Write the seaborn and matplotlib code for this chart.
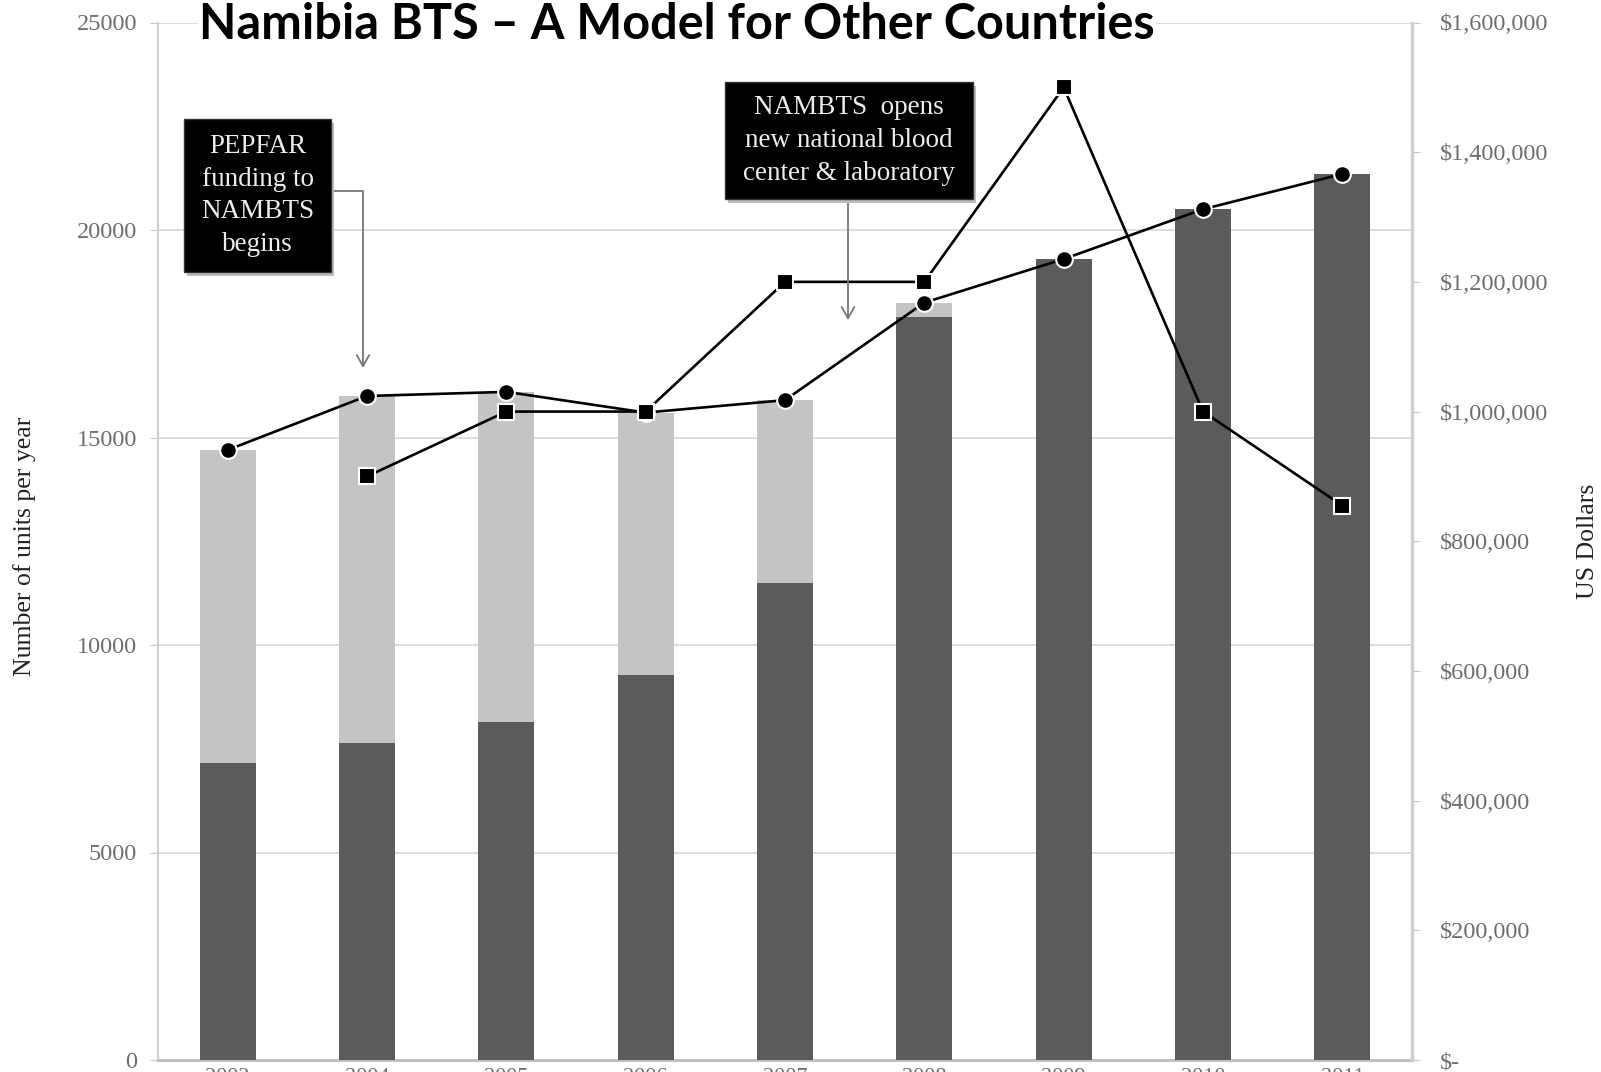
import numpy as np
import pandas as pd
import matplotlib
matplotlib.use("Agg")
import matplotlib.pyplot as plt
from matplotlib.patches import Rectangle
import seaborn as sns

years = ["2003", "2004", "2005", "2006", "2007", "2008", "2009", "2010", "2011"]
# units per year: dark part and total (light part stacked on top)
units_dark = [7150, 7650, 8150, 9280, 11500, 17900, 19300, 20500, 21350]
units_total = [14700, 16000, 16100, 15600, 15900, 18250, 19300, 20500, 21350]
# US dollars (no value for 2003)
dollars = [np.nan, 900000, 1000000, 1000000, 1200000, 1200000, 1500000, 1000000, 855000]

left_ticks = [0, 5000, 10000, 15000, 20000, 25000]
right_ticks = [0, 200000, 400000, 600000, 800000, 1000000, 1200000, 1400000, 1600000]
right_labels = ["$-", "$200,000", "$400,000", "$600,000", "$800,000",
                "$1,000,000", "$1,200,000", "$1,400,000", "$1,600,000"]

df = pd.DataFrame({"year": years, "dark": units_dark, "total": units_total, "usd": dollars})

sns.set_style("white")
plt.rcParams["font.family"] = ["Liberation Serif", "DejaVu Serif"]

W, H = 1601, 1072
fig = plt.figure(figsize=(W / 100, H / 100), dpi=100)
ax = fig.add_axes([158 / W, 1 - 1060 / H, (1412 - 158) / W, (1060 - 22.5) / H])

grey_txt = "#6e6e6e"
sns.barplot(data=df, x="year", y="total", order=years, color="#c4c4c4",
            saturation=1, width=0.4, linewidth=0, ax=ax, zorder=2)
sns.barplot(data=df, x="year", y="dark", order=years, color="#5b5b5b",
            saturation=1, width=0.4, linewidth=0, ax=ax, zorder=3)

ax.set_ylim(0, 25000)
ax.set_xlim(-0.5, 8.5)
ax.set_yticks(left_ticks)
ax.set_yticklabels([str(t) for t in left_ticks])
ax.yaxis.grid(True, color="#d9d9d9", lw=1.3, zorder=0)
ax.set_axisbelow(True)
ax.set_xlabel("")
ax.set_ylabel("")
ax.tick_params(axis="y", length=6, color="#c8c8c8", labelsize=17.5, labelcolor=grey_txt, pad=9)
ax.set_xticks(range(len(years)))
ax.set_xticklabels(years)
ax.set_xticks(np.arange(-0.5, 9, 1), minor=True)
ax.tick_params(axis="x", which="major", length=0, labelsize=16, labelcolor=grey_txt, pad=6)
ax.tick_params(axis="x", which="minor", length=12, color="#c8c8c8", width=1.2)
for s in ["top", "right"]:
    ax.spines[s].set_visible(False)
ax.spines["left"].set_color("#d0d0d0")
ax.spines["left"].set_linewidth(1.5)
ax.spines["bottom"].set_color("#c0c0c0")
ax.spines["bottom"].set_linewidth(2.2)

ax2 = ax.twinx()
sns.pointplot(data=df, x="year", y="total", order=years, color="black", errorbar=None,
              markers="o", markersize=12, markeredgecolor="white", markeredgewidth=1.5,
              linewidth=1.9, ax=ax2, zorder=5)
ax3 = ax.twinx()
sns.pointplot(data=df, x="year", y="usd", order=years, color="black", errorbar=None,
              markers="s", markersize=11.5, markeredgecolor="white", markeredgewidth=1.5,
              linewidth=1.9, ax=ax3, zorder=5)
ax2.set_ylim(0, 25000)
ax2.axis("off")
ax3.set_ylim(0, 1600000)
ax3.set_xlim(-0.5, 8.5)
ax3.set_yticks(right_ticks)
ax3.set_yticklabels(right_labels)
ax3.set_ylabel("")
ax3.set_xlabel("")
ax3.tick_params(axis="y", length=6, color="#c8c8c8", labelsize=17.5, labelcolor=grey_txt, pad=14)
for s in ["top", "left", "bottom"]:
    ax3.spines[s].set_visible(False)
ax3.spines["right"].set_color("#d0d0d0")
ax3.spines["right"].set_linewidth(2.5)
ax2.set_xlim(-0.5, 8.5)

fig.text(25 / W, 1 - 546 / H, "Number of units per year", rotation=90, ha="center", va="center",
         fontsize=18.5, color="#222222")
fig.text(1588 / W, 1 - 541 / H, "US Dollars", rotation=90, ha="center", va="center",
         fontsize=18.5, color="#222222")

fig.text(199 / W, 1 - 39 / H, "Namibia BTS \u2013 A Model for Other Countries",
         family=["Lato", "DejaVu Sans"], fontweight="bold", fontsize=35, color="black",
         ha="left", va="baseline",
         bbox=dict(facecolor="white", edgecolor="none", pad=1))


def note_box(x0, y0, x1, y1, text):
    # shadow then black box, in figure pixels (top-left origin)
    fig.add_artist(Rectangle(((x0 + 3) / W, 1 - (y1 + 4) / H), (x1 - x0) / W, (y1 - y0) / H,
                             transform=fig.transFigure, facecolor="#bdbdbd", edgecolor="none",
                             zorder=9))
    fig.add_artist(Rectangle((x0 / W, 1 - y1 / H), (x1 - x0) / W, (y1 - y0) / H,
                             transform=fig.transFigure, facecolor="black", edgecolor="#333333",
                             zorder=10))
    fig.text((x0 + x1) / 2 / W, 1 - (y0 + y1) / 2 / H, text, ha="center", va="center",
             fontsize=19.5, color="#ececec", linespacing=1.42, zorder=11)


note_box(184, 119, 331, 272, "PEPFAR\nfunding to\nNAMBTS\nbegins")
note_box(725, 82, 973, 199, "NAMBTS  opens\nnew national blood\ncenter & laboratory")

arrow = dict(arrowstyle="->,head_length=0.8,head_width=0.45", color="#777777", lw=1.3,
             shrinkA=0, shrinkB=0)
fig.add_artist(plt.Annotation("", xy=(363, H - 368), xytext=(333, H - 191),
                              xycoords="figure pixels", textcoords="figure pixels",
                              arrowprops=dict(connectionstyle="angle,angleA=0,angleB=90,rad=0",
                                              **arrow)))
fig.add_artist(plt.Annotation("", xy=(848, H - 320), xytext=(848, H - 200),
                              xycoords="figure pixels", textcoords="figure pixels",
                              arrowprops=arrow))

fig.savefig("out.png", dpi=100)
